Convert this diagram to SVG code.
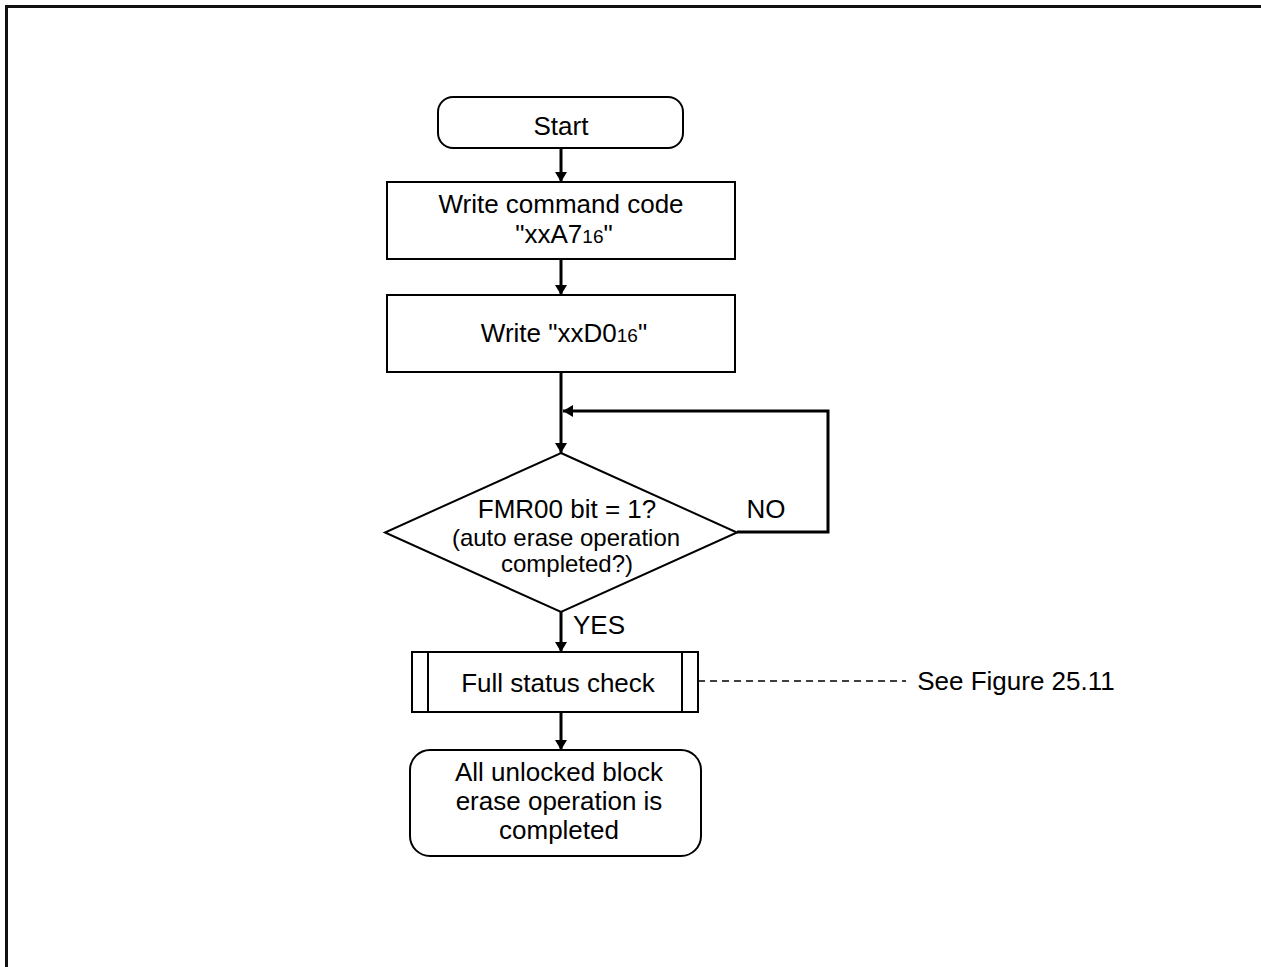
<svg xmlns="http://www.w3.org/2000/svg" width="1261" height="967" viewBox="0 0 1261 967">
<style>
.box{fill:#fff;stroke:#000;stroke-width:2}
.t{font-family:"Liberation Sans",Arial,sans-serif;font-size:26px;fill:#000;text-anchor:middle}
.s{font-size:24px}
.sub{font-size:19px}
.c{fill:none;stroke:#000;stroke-width:3}
.d{fill:none;stroke:#000;stroke-width:1.5;stroke-dasharray:7 5}
</style>
<defs>
<marker id="ah" markerWidth="10" markerHeight="12" refX="10" refY="6" orient="auto" markerUnits="userSpaceOnUse">
<path d="M0,0 L10,6 L0,12 Z" fill="#000"/>
</marker>
</defs>
<rect width="1261" height="967" fill="#fff"/>
<path d="M6.5,967 V6.5 H1261" fill="none" stroke="#111" stroke-width="3"/>

<g id="connectors">
<line class="c" x1="561" y1="148" x2="561" y2="182" marker-end="url(#ah)"/>
<line class="c" x1="561" y1="259" x2="561" y2="295" marker-end="url(#ah)"/>
<line class="c" x1="561" y1="372" x2="561" y2="453" marker-end="url(#ah)"/>
<polyline class="c" points="737,532 828,532 828,411 563,411" marker-end="url(#ah)"/>
<line class="c" x1="561" y1="612" x2="561" y2="652" marker-end="url(#ah)"/>
<line class="c" x1="561" y1="712" x2="561" y2="750" marker-end="url(#ah)"/>
<line class="d" x1="698" y1="681" x2="906" y2="681"/>
<text class="t" x="766" y="518">NO</text>
<text class="t" x="599" y="634">YES</text>
<text class="t" x="1016" y="690">See Figure 25.11</text>
</g>

<g id="start">
<rect class="box" x="438" y="97" width="245" height="51" rx="15"/>
<text class="t" x="561" y="135">Start</text>
</g>

<g id="write-cmd">
<rect class="box" x="387" y="182" width="348" height="77"/>
<text class="t" x="561" y="213">Write command code</text>
<text class="t" x="564" y="243">"xxA7<tspan class="sub">16</tspan>"</text>
</g>

<g id="write-d0">
<rect class="box" x="387" y="295" width="348" height="77"/>
<text class="t" x="564" y="342">Write "xxD0<tspan class="sub">16</tspan>"</text>
</g>

<g id="decision">
<polygon class="box" points="561,453 737,532.5 561,612 385,532.5"/>
<text class="t" x="567" y="518">FMR00 bit = 1?</text>
<text class="t s" x="566" y="546">(auto erase operation</text>
<text class="t s" x="567" y="572">completed?)</text>
</g>

<g id="full-status">
<rect class="box" x="412" y="652" width="286" height="60"/>
<line x1="428" y1="652" x2="428" y2="712" stroke="#000" stroke-width="2"/>
<line x1="682" y1="652" x2="682" y2="712" stroke="#000" stroke-width="2"/>
<text class="t" x="558" y="692">Full status check</text>
</g>

<g id="end">
<rect class="box" x="410" y="750" width="291" height="106" rx="20"/>
<text class="t" x="559" y="781">All unlocked block</text>
<text class="t" x="559" y="810">erase operation is</text>
<text class="t" x="559" y="839">completed</text>
</g>
</svg>
